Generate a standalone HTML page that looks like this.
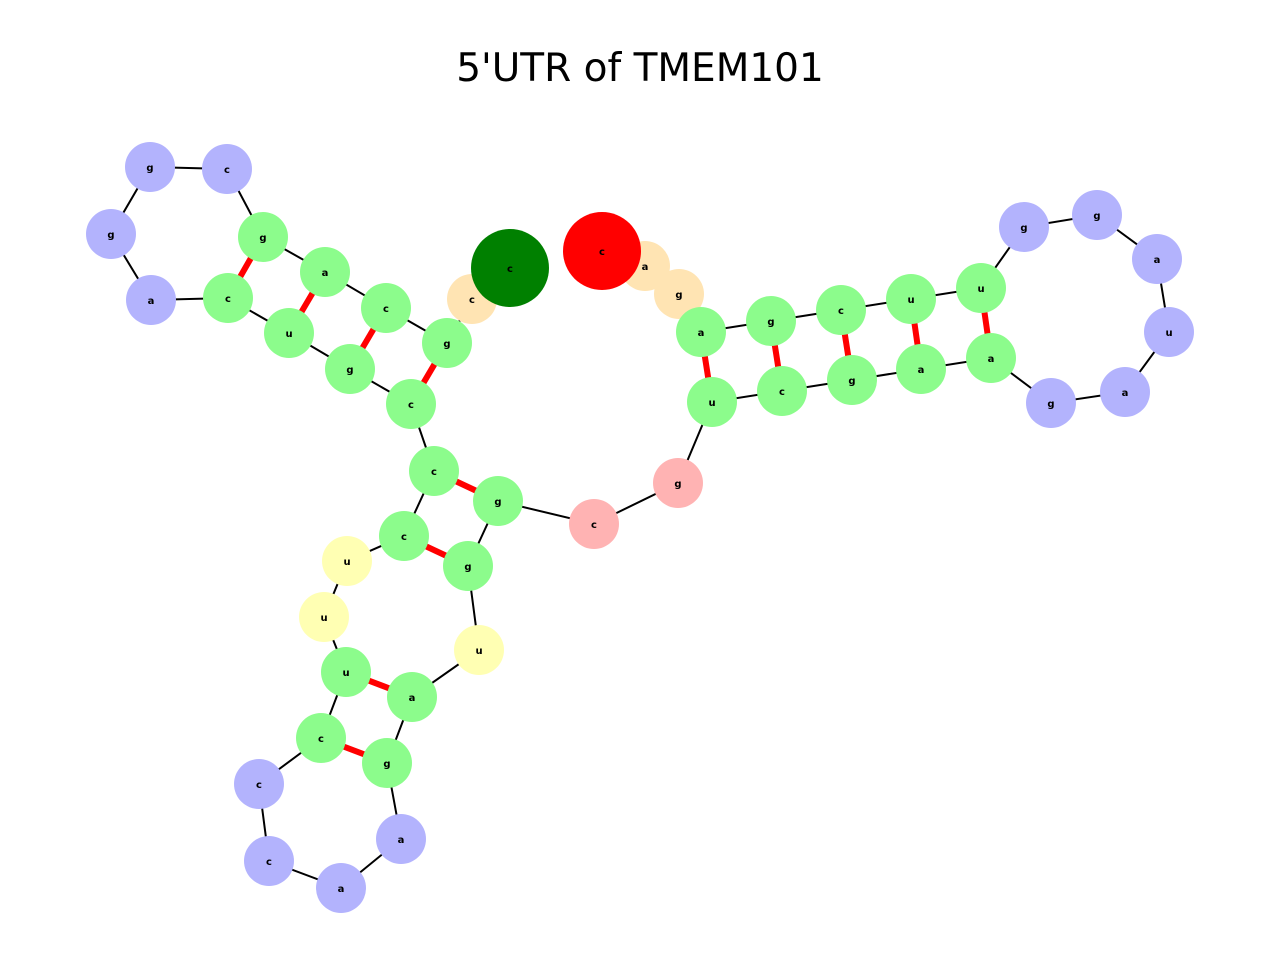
<!DOCTYPE html><html><head><style>body{margin:0;background:#fff}svg{display:block}</style></head><body>
<svg width="1280" height="960" xmlns="http://www.w3.org/2000/svg" font-family="DejaVu Sans, Liberation Sans, sans-serif">
<text x="640" y="81" text-anchor="middle" font-size="39">5'UTR of TMEM101</text>
<g stroke="#000" stroke-width="2" fill="none">
<polyline points="602,251 645,266 679,294 701,332 771,321 841,310 911,299 981,288 1024,227 1097,215 1157,259 1169,332 1125,392 1051,403 991,358 921,369 852,380 782,391 712,402 678,483 594,524 498,501 468,566 479,650 412,697 387,763 401,839 341,888 269,861 259,784 321,738 346,672 324,617 347,561 404,536 434,471 411,404 350,369 289,333 228,298 151,300 111,234 150,167 227,169 263,237 325,272 386,308 447,343 472,299 510,268"/>
</g>
<g stroke="#f00" stroke-width="6">
<line x1="263" y1="237" x2="228" y2="298"/><line x1="325" y1="272" x2="289" y2="333"/><line x1="386" y1="308" x2="350" y2="369"/><line x1="447" y1="343" x2="411" y2="404"/>
<line x1="701" y1="332" x2="712" y2="402"/><line x1="771" y1="321" x2="782" y2="391"/><line x1="841" y1="310" x2="852" y2="380"/><line x1="911" y1="299" x2="921" y2="369"/><line x1="981" y1="288" x2="991" y2="358"/>
<line x1="434" y1="471" x2="498" y2="501"/><line x1="404" y1="536" x2="468" y2="566"/><line x1="346" y1="672" x2="412" y2="697"/><line x1="321" y1="738" x2="387" y2="763"/>
</g>
<g font-size="10" font-weight="bold" text-anchor="middle">
<g fill="#ffe4b3"><circle cx="472" cy="299" r="25"/><circle cx="645" cy="266" r="25"/><circle cx="679" cy="294" r="25"/></g>
<g fill="#000"><text x="472" y="303">c</text><text x="645" y="270">a</text><text x="679" y="298">g</text></g>
<circle cx="510" cy="268" r="39" fill="#008000"/><text x="510" y="272">c</text>
<circle cx="602" cy="251" r="39" fill="#f00"/><text x="602" y="255">c</text>
<g fill="#8cfc8c">
<circle cx="263" cy="237" r="25"/><circle cx="228" cy="298" r="25"/><circle cx="325" cy="272" r="25"/><circle cx="289" cy="333" r="25"/><circle cx="386" cy="308" r="25"/><circle cx="350" cy="369" r="25"/><circle cx="447" cy="343" r="25"/><circle cx="411" cy="404" r="25"/>
<circle cx="701" cy="332" r="25"/><circle cx="771" cy="321" r="25"/><circle cx="841" cy="310" r="25"/><circle cx="911" cy="299" r="25"/><circle cx="981" cy="288" r="25"/><circle cx="712" cy="402" r="25"/><circle cx="782" cy="391" r="25"/><circle cx="852" cy="380" r="25"/><circle cx="921" cy="369" r="25"/><circle cx="991" cy="358" r="25"/>
<circle cx="434" cy="471" r="25"/><circle cx="498" cy="501" r="25"/><circle cx="404" cy="536" r="25"/><circle cx="468" cy="566" r="25"/><circle cx="346" cy="672" r="25"/><circle cx="412" cy="697" r="25"/><circle cx="321" cy="738" r="25"/><circle cx="387" cy="763" r="25"/>
</g>
<g fill="#b3b3fd">
<circle cx="150" cy="167" r="25"/><circle cx="227" cy="169" r="25"/><circle cx="111" cy="234" r="25"/><circle cx="151" cy="300" r="25"/>
<circle cx="1024" cy="227" r="25"/><circle cx="1097" cy="215" r="25"/><circle cx="1157" cy="259" r="25"/><circle cx="1169" cy="332" r="25"/><circle cx="1125" cy="392" r="25"/><circle cx="1051" cy="403" r="25"/>
<circle cx="259" cy="784" r="25"/><circle cx="269" cy="861" r="25"/><circle cx="341" cy="888" r="25"/><circle cx="401" cy="839" r="25"/>
</g>
<g fill="#ffb3b3"><circle cx="678" cy="483" r="25"/><circle cx="594" cy="524" r="25"/></g>
<g fill="#ffffb3"><circle cx="347" cy="561" r="25"/><circle cx="324" cy="617" r="25"/><circle cx="479" cy="650" r="25"/></g>
<g fill="#000">
<text x="263" y="241">g</text><text x="228" y="302">c</text><text x="325" y="276">a</text><text x="289" y="337">u</text><text x="386" y="312">c</text><text x="350" y="373">g</text><text x="447" y="347">g</text><text x="411" y="408">c</text>
<text x="701" y="336">a</text><text x="771" y="325">g</text><text x="841" y="314">c</text><text x="911" y="303">u</text><text x="981" y="292">u</text><text x="712" y="406">u</text><text x="782" y="395">c</text><text x="852" y="384">g</text><text x="921" y="373">a</text><text x="991" y="362">a</text>
<text x="434" y="475">c</text><text x="498" y="505">g</text><text x="404" y="540">c</text><text x="468" y="570">g</text><text x="346" y="676">u</text><text x="412" y="701">a</text><text x="321" y="742">c</text><text x="387" y="767">g</text>
<text x="150" y="171">g</text><text x="227" y="173">c</text><text x="111" y="238">g</text><text x="151" y="304">a</text>
<text x="1024" y="231">g</text><text x="1097" y="219">g</text><text x="1157" y="263">a</text><text x="1169" y="336">u</text><text x="1125" y="396">a</text><text x="1051" y="407">g</text>
<text x="259" y="788">c</text><text x="269" y="865">c</text><text x="341" y="892">a</text><text x="401" y="843">a</text>
<text x="678" y="487">g</text><text x="594" y="528">c</text>
<text x="347" y="565">u</text><text x="324" y="621">u</text><text x="479" y="654">u</text>
</g>
</g>
</svg>
</body></html>
